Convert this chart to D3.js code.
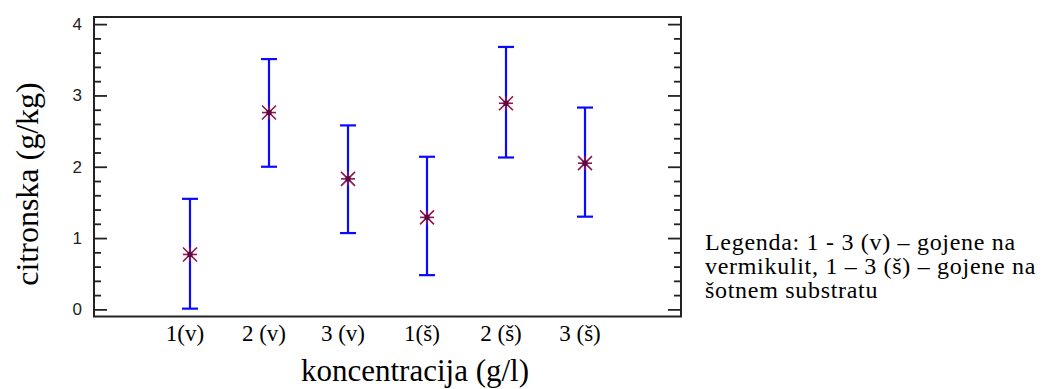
<!DOCTYPE html>
<html><head><meta charset="utf-8">
<script src="https://cdn.jsdelivr.net/npm/d3@7"></script>
<style>body{margin:0;background:#fff}svg{display:block}</style>
</head><body>
<svg id="c" width="1047" height="389"></svg>
<script>
const categories = ["1(v)", "2 (v)", "3 (v)", "1(š)", "2 (š)", "3 (š)"];
const means = [0.77, 2.76, 1.83, 1.29, 2.89, 2.05];
const lower = [0.01, 2.00, 1.07, 0.48, 2.13, 1.30];
const upper = [1.55, 3.51, 2.58, 2.14, 3.68, 2.83];
const yTicks = [0, 1, 2, 3, 4];
const legendLines = ["Legenda: 1 - 3 (v) – gojene na", "vermikulit, 1 – 3 (š) – gojene na", "šotnem substratu"];

const svg = d3.select("#c");
const L = 94, R = 681, T = 17, B = 316.5;
const x = d3.scalePoint().domain(categories).range([L, R]).padding(1.215);
const y = d3.scaleLinear().domain([-0.1, 4.1]).range([B, T]);

// frame
svg.append("rect").attr("x", L).attr("y", T).attr("width", R - L).attr("height", B - T)
  .attr("fill", "#fff").attr("stroke", "#222").attr("stroke-width", 2);

// ticks via axes (inward)
const minor = d3.range(0, 4.01, 0.2).filter(v => Math.abs(v - Math.round(v)) > 1e-6);
const mkAxis = (side, vals, len) => (side === "left" ? d3.axisRight(y) : d3.axisLeft(y))
  .tickValues(vals).tickSize(len).tickFormat("");
[["left", L], ["right", R]].forEach(([side, px]) => {
  [[yTicks, 13], [minor, 7]].forEach(([vals, len]) => {
    const g = svg.append("g").attr("transform", `translate(${px},0)`).call(mkAxis(side, vals, len));
    g.select(".domain").remove();
    g.selectAll("line").attr("stroke", "#222").attr("stroke-width", 1.8);
  });
});
// tick labels
const yl = svg.append("g").attr("transform", `translate(${L},0)`)
  .call(d3.axisLeft(y).tickValues(yTicks).tickSize(0).tickPadding(12).tickFormat(d3.format("d")));
yl.select(".domain").remove();
yl.selectAll("text").attr("font-family", "Liberation Sans, Arial, sans-serif").attr("font-size", 17).attr("fill", "#222");

// error bars
const data = categories.map((c, i) => ({c, m: means[i], lo: lower[i], hi: upper[i]}));
const eb = svg.append("g").attr("stroke", "#0a0aff").attr("stroke-width", 2.2);
data.forEach(d => {
  const cx = x(d.c);
  eb.append("line").attr("x1", cx).attr("x2", cx).attr("y1", y(d.lo)).attr("y2", y(d.hi));
  eb.append("line").attr("x1", cx - 8).attr("x2", cx + 8).attr("y1", y(d.lo)).attr("y2", y(d.lo));
  eb.append("line").attr("x1", cx - 8).attr("x2", cx + 8).attr("y1", y(d.hi)).attr("y2", y(d.hi));
});
// asterisk markers
const mk = svg.append("g").attr("stroke", "#8a1a50").attr("stroke-width", 1.6);
data.forEach(d => {
  const cx = x(d.c), cy = y(d.m), r = 7;
  [[r, 0], [r, r], [r, -r], [0, r]].forEach(([dx, dy]) => {
    mk.append("line").attr("x1", cx - dx).attr("x2", cx + dx).attr("y1", cy - dy).attr("y2", cy + dy);
  });
  mk.append("rect").attr("x", cx - 2.5).attr("y", cy - 2.5).attr("width", 5).attr("height", 5)
    .attr("fill", "#5a0a40").attr("stroke", "none");
});

// category labels
const serif = "Liberation Serif, Times New Roman, serif";
svg.append("g").selectAll("text").data(categories).join("text")
  .attr("x", d => x(d) - 5).attr("y", 341).attr("text-anchor", "middle")
  .attr("font-family", serif).attr("font-size", 23).attr("fill", "#000").text(d => d);

svg.append("text").attr("x", 415).attr("y", 381).attr("text-anchor", "middle")
  .attr("font-family", serif).attr("font-size", 31).text("koncentracija (g/l)");

svg.append("text").attr("transform", "translate(38,184) rotate(-90)").attr("text-anchor", "middle")
  .attr("font-family", serif).attr("font-size", 32).text("citronska (g/kg)");

svg.append("g").selectAll("text").data(legendLines).join("text")
  .attr("x", 705).attr("y", (d, i) => 250 + i * 24)
  .attr("font-family", serif).attr("font-size", 24).attr("letter-spacing", 0.7).text(d => d);
</script>
</body></html>
